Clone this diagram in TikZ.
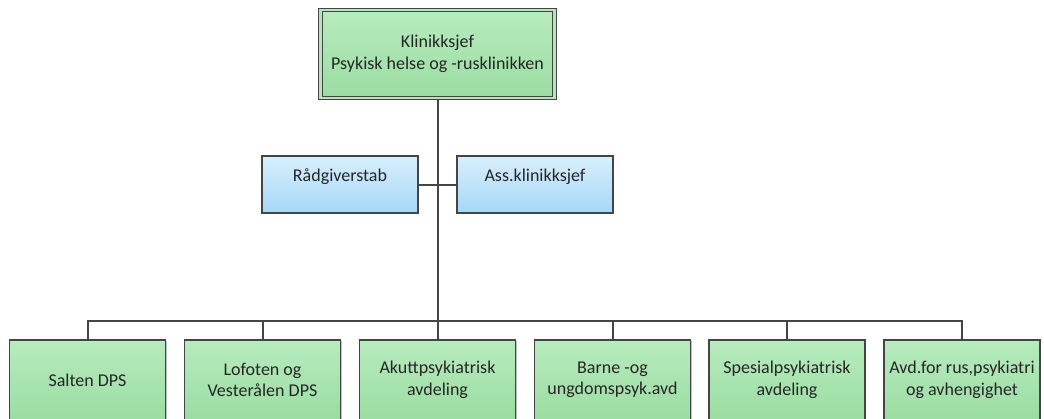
\documentclass[tikz,border=0pt]{standalone}
\usepackage{fontspec}
\setmainfont{Carlito}
\usetikzlibrary{shadows,positioning}
\definecolor{gtop}{HTML}{B8EBBE}
\definecolor{gbot}{HTML}{9ADDA2}
\definecolor{btop}{HTML}{D8EFFC}
\definecolor{bbot}{HTML}{A6D7F7}
\definecolor{edge}{HTML}{454545}
\tikzset{
  box/.style={draw=edge, line width=1.4pt, align=center, inner sep=1pt,
    font=\fontsize{18}{21.5}\selectfont, text=black!85,
    drop shadow={shadow xshift=1.2pt, shadow yshift=-1.2pt, fill=black, opacity=0.25}},
  greenbox/.style={box, top color=gtop, bottom color=gbot},
  bluebox/.style={box, top color=btop, bottom color=bbot, minimum width=156pt, minimum height=57pt,
    text height=13pt, text depth=20pt},
  unitbox/.style={greenbox, minimum width=156pt, minimum height=80pt},
  conn/.style={draw=edge, line width=2pt}
}
\begin{document}
\begin{tikzpicture}[x=1pt,y=-1pt]
\path[use as bounding box] (0,0) rectangle (1044,418);
\clip (0,0) rectangle (1044,418);
\fill[white] (0,0) rectangle (1044,418);
% top
\node[greenbox, minimum width=234pt, minimum height=88pt, double=gtop!80!gbot, double distance=2.2pt, line width=1.1pt] (chief) at (437.5,54) {Klinikksjef\\Psykisk helse og -rusklinikken};
% staff
\node[bluebox] (rad) at (340,184.5) {Rådgiverstab};
\node[bluebox] (ass) at (535,184.5) {Ass.klinikksjef};
% units
\node[unitbox] (u1) at (87.5,380) {Salten DPS};
\node[unitbox] (u2) at (262.5,380) {Lofoten og\\Vesterålen DPS};
\node[unitbox] (u3) at (437.5,380) {Akuttpsykiatrisk\\avdeling};
\node[unitbox] (u4) at (612.5,380) {Barne -og\\ungdomspsyk.avd};
\node[unitbox] (u5) at (787,380) {Spesialpsykiatrisk\\avdeling};
\node[unitbox] (u6) at (962,380) {Avd.for rus,psykiatri\\og avhengighet};
% connectors
\coordinate (bus) at (437.5,321);
\coordinate (mid) at (437.5,185);
\draw[conn] (chief.south) -- (bus);
\draw[conn] (rad.east |- mid) -- (ass.west |- mid);
\draw[conn] (u1.north) |- (bus) -| (u6.north);
\foreach \u in {u2,u3,u4,u5} \draw[conn] (\u.north) -- (\u.north |- bus);
\end{tikzpicture}
\end{document}
